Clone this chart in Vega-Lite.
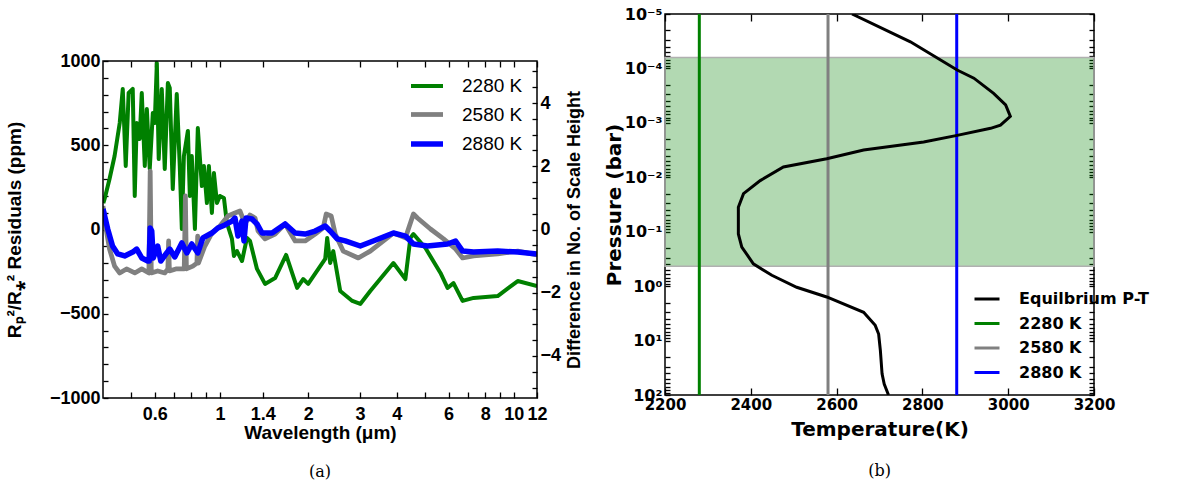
{
  "$schema": "https://vega.github.io/schema/vega-lite/v6.json",
  "background": "white",
  "padding": 5,
  "spacing": 19,
  "resolve": {"scale": {"color": "independent", "strokeWidth": "independent"}, "legend": {"color": "independent", "strokeWidth": "independent"}},
  "config": {
    "view": {"stroke": "black", "strokeWidth": 1.5},
    "axis": {"domain": false, "grid": false, "tickColor": "black", "tickWidth": 1.3, "labelColor": "black", "titleColor": "black", "labelFlush": false, "labelOverlap": false, "labelBound": false}
  },
  "hconcat": [
    {
      "title": {"text": "(a)", "orient": "bottom", "anchor": "middle", "font": "DejaVu Serif", "fontSize": 16, "fontWeight": "normal", "color": "black", "offset": 22},
      "width": 434,
      "height": 384,
      "view": {"stroke": null},
      "layer": [
        {
          "data": {"values": [
            {"s": "2280 K", "w": 0.401, "r": 157}, {"s": "2280 K", "w": 0.405, "r": 181}, {"s": "2280 K", "w": 0.421, "r": 300}, {"s": "2280 K", "w": 0.438, "r": 436},
            {"s": "2280 K", "w": 0.456, "r": 632}, {"s": "2280 K", "w": 0.467, "r": 834}, {"s": "2280 K", "w": 0.478, "r": 377}, {"s": "2280 K", "w": 0.489, "r": 810},
            {"s": "2280 K", "w": 0.505, "r": 834}, {"s": "2280 K", "w": 0.513, "r": 199}, {"s": "2280 K", "w": 0.521, "r": 632}, {"s": "2280 K", "w": 0.533, "r": 537},
            {"s": "2280 K", "w": 0.542, "r": 810}, {"s": "2280 K", "w": 0.555, "r": 377}, {"s": "2280 K", "w": 0.564, "r": 715}, {"s": "2280 K", "w": 0.577, "r": 359},
            {"s": "2280 K", "w": 0.591, "r": 691}, {"s": "2280 K", "w": 0.600, "r": 632}, {"s": "2280 K", "w": 0.610, "r": 988}, {"s": "2280 K", "w": 0.619, "r": 418},
            {"s": "2280 K", "w": 0.634, "r": 834}, {"s": "2280 K", "w": 0.649, "r": 359}, {"s": "2280 K", "w": 0.665, "r": 869}, {"s": "2280 K", "w": 0.675, "r": 840},
            {"s": "2280 K", "w": 0.691, "r": 240}, {"s": "2280 K", "w": 0.713, "r": 804}, {"s": "2280 K", "w": 0.730, "r": 377}, {"s": "2280 K", "w": 0.742, "r": 3},
            {"s": "2280 K", "w": 0.754, "r": 436}, {"s": "2280 K", "w": 0.778, "r": 585}, {"s": "2280 K", "w": 0.790, "r": 199}, {"s": "2280 K", "w": 0.802, "r": 436},
            {"s": "2280 K", "w": 0.822, "r": 3}, {"s": "2280 K", "w": 0.841, "r": 602}, {"s": "2280 K", "w": 0.868, "r": 258}, {"s": "2280 K", "w": 0.882, "r": 377},
            {"s": "2280 K", "w": 0.903, "r": 157}, {"s": "2280 K", "w": 0.917, "r": 377}, {"s": "2280 K", "w": 0.939, "r": 98}, {"s": "2280 K", "w": 0.954, "r": 335},
            {"s": "2280 K", "w": 0.977, "r": 157}, {"s": "2280 K", "w": 1.000, "r": 199}, {"s": "2280 K", "w": 1.032, "r": 187}, {"s": "2280 K", "w": 1.056, "r": 39},
            {"s": "2280 K", "w": 1.099, "r": -56}, {"s": "2280 K", "w": 1.116, "r": -157}, {"s": "2280 K", "w": 1.143, "r": -128}, {"s": "2280 K", "w": 1.189, "r": -187},
            {"s": "2280 K", "w": 1.236, "r": -50}, {"s": "2280 K", "w": 1.266, "r": -68}, {"s": "2280 K", "w": 1.337, "r": -234}, {"s": "2280 K", "w": 1.424, "r": -323},
            {"s": "2280 K", "w": 1.541, "r": -288}, {"s": "2280 K", "w": 1.680, "r": -151}, {"s": "2280 K", "w": 1.831, "r": -347}, {"s": "2280 K", "w": 1.920, "r": -294},
            {"s": "2280 K", "w": 1.997, "r": -323}, {"s": "2280 K", "w": 2.282, "r": -175}, {"s": "2280 K", "w": 2.318, "r": -50}, {"s": "2280 K", "w": 2.373, "r": -199},
            {"s": "2280 K", "w": 2.431, "r": -128}, {"s": "2280 K", "w": 2.567, "r": -365}, {"s": "2280 K", "w": 2.822, "r": -424}, {"s": "2280 K", "w": 3.004, "r": -442},
            {"s": "2280 K", "w": 3.249, "r": -365}, {"s": "2280 K", "w": 3.894, "r": -199}, {"s": "2280 K", "w": 4.278, "r": -294}, {"s": "2280 K", "w": 4.449, "r": -50},
            {"s": "2280 K", "w": 4.556, "r": -27}, {"s": "2280 K", "w": 5.006, "r": -110}, {"s": "2280 K", "w": 5.632, "r": -258}, {"s": "2280 K", "w": 5.953, "r": -347},
            {"s": "2280 K", "w": 6.237, "r": -318}, {"s": "2280 K", "w": 6.698, "r": -424}, {"s": "2280 K", "w": 7.302, "r": -406}, {"s": "2280 K", "w": 8.818, "r": -395},
            {"s": "2280 K", "w": 10.32, "r": -306}, {"s": "2280 K", "w": 12.0, "r": -335},

            {"s": "2580 K", "w": 0.400, "r": 139}, {"s": "2580 K", "w": 0.411, "r": -9}, {"s": "2580 K", "w": 0.421, "r": -116}, {"s": "2580 K", "w": 0.438, "r": -217},
            {"s": "2580 K", "w": 0.456, "r": -258}, {"s": "2580 K", "w": 0.481, "r": -234}, {"s": "2580 K", "w": 0.513, "r": -258}, {"s": "2580 K", "w": 0.542, "r": -234},
            {"s": "2580 K", "w": 0.573, "r": -258}, {"s": "2580 K", "w": 0.579, "r": 347}, {"s": "2580 K", "w": 0.584, "r": -258}, {"s": "2580 K", "w": 0.614, "r": -246},
            {"s": "2580 K", "w": 0.649, "r": -258}, {"s": "2580 K", "w": 0.665, "r": -234}, {"s": "2580 K", "w": 0.669, "r": -68}, {"s": "2580 K", "w": 0.673, "r": -246},
            {"s": "2580 K", "w": 0.708, "r": -234}, {"s": "2580 K", "w": 0.756, "r": -234}, {"s": "2580 K", "w": 0.763, "r": 199}, {"s": "2580 K", "w": 0.769, "r": -234},
            {"s": "2580 K", "w": 0.809, "r": -217}, {"s": "2580 K", "w": 0.835, "r": -199}, {"s": "2580 K", "w": 0.840, "r": -39}, {"s": "2580 K", "w": 0.845, "r": -199},
            {"s": "2580 K", "w": 0.889, "r": -98}, {"s": "2580 K", "w": 0.939, "r": -21}, {"s": "2580 K", "w": 1.000, "r": 21}, {"s": "2580 K", "w": 1.065, "r": 80},
            {"s": "2580 K", "w": 1.125, "r": 98}, {"s": "2580 K", "w": 1.170, "r": 110}, {"s": "2580 K", "w": 1.217, "r": 33}, {"s": "2580 K", "w": 1.266, "r": 86},
            {"s": "2580 K", "w": 1.317, "r": 68}, {"s": "2580 K", "w": 1.348, "r": -9}, {"s": "2580 K", "w": 1.424, "r": -56}, {"s": "2580 K", "w": 1.541, "r": -27},
            {"s": "2580 K", "w": 1.667, "r": 33}, {"s": "2580 K", "w": 1.803, "r": -68}, {"s": "2580 K", "w": 1.950, "r": -68}, {"s": "2580 K", "w": 2.110, "r": -27},
            {"s": "2580 K", "w": 2.246, "r": 9}, {"s": "2580 K", "w": 2.300, "r": 92}, {"s": "2580 K", "w": 2.392, "r": 80}, {"s": "2580 K", "w": 2.469, "r": -27},
            {"s": "2580 K", "w": 2.627, "r": -128}, {"s": "2580 K", "w": 2.958, "r": -169}, {"s": "2580 K", "w": 3.249, "r": -128}, {"s": "2580 K", "w": 3.894, "r": -21},
            {"s": "2580 K", "w": 4.278, "r": -50}, {"s": "2580 K", "w": 4.556, "r": 92}, {"s": "2580 K", "w": 4.703, "r": 68}, {"s": "2580 K", "w": 5.207, "r": 3},
            {"s": "2580 K", "w": 5.769, "r": -56}, {"s": "2580 K", "w": 6.339, "r": -116}, {"s": "2580 K", "w": 6.698, "r": -169}, {"s": "2580 K", "w": 7.302, "r": -157},
            {"s": "2580 K", "w": 8.818, "r": -145}, {"s": "2580 K", "w": 10.32, "r": -128}, {"s": "2580 K", "w": 12.0, "r": -151},

            {"s": "2880 K", "w": 0.400, "r": 122}, {"s": "2880 K", "w": 0.415, "r": 3}, {"s": "2880 K", "w": 0.431, "r": -98}, {"s": "2880 K", "w": 0.449, "r": -145},
            {"s": "2880 K", "w": 0.474, "r": -157}, {"s": "2880 K", "w": 0.505, "r": -134}, {"s": "2880 K", "w": 0.521, "r": -116}, {"s": "2880 K", "w": 0.542, "r": -169},
            {"s": "2880 K", "w": 0.568, "r": -187}, {"s": "2880 K", "w": 0.5745, "r": -187}, {"s": "2880 K", "w": 0.579, "r": 9}, {"s": "2880 K", "w": 0.586, "r": -9},
            {"s": "2880 K", "w": 0.593, "r": -169}, {"s": "2880 K", "w": 0.614, "r": -98}, {"s": "2880 K", "w": 0.629, "r": -187}, {"s": "2880 K", "w": 0.659, "r": -139},
            {"s": "2880 K", "w": 0.675, "r": -116}, {"s": "2880 K", "w": 0.702, "r": -163}, {"s": "2880 K", "w": 0.742, "r": -80}, {"s": "2880 K", "w": 0.772, "r": -139},
            {"s": "2880 K", "w": 0.802, "r": -86}, {"s": "2880 K", "w": 0.841, "r": -139}, {"s": "2880 K", "w": 0.875, "r": -50}, {"s": "2880 K", "w": 0.939, "r": -21},
            {"s": "2880 K", "w": 0.984, "r": 9}, {"s": "2880 K", "w": 1.040, "r": 27}, {"s": "2880 K", "w": 1.099, "r": 50}, {"s": "2880 K", "w": 1.125, "r": 68},
            {"s": "2880 K", "w": 1.152, "r": -39}, {"s": "2880 K", "w": 1.189, "r": 50}, {"s": "2880 K", "w": 1.2075, "r": -68}, {"s": "2880 K", "w": 1.227, "r": 68},
            {"s": "2880 K", "w": 1.286, "r": 62}, {"s": "2880 K", "w": 1.337, "r": 33}, {"s": "2880 K", "w": 1.391, "r": -21}, {"s": "2880 K", "w": 1.505, "r": -21},
            {"s": "2880 K", "w": 1.667, "r": 33}, {"s": "2880 K", "w": 1.803, "r": -21}, {"s": "2880 K", "w": 1.950, "r": -27}, {"s": "2880 K", "w": 2.110, "r": -9},
            {"s": "2880 K", "w": 2.282, "r": 21}, {"s": "2880 K", "w": 2.373, "r": -9}, {"s": "2880 K", "w": 2.508, "r": -56}, {"s": "2880 K", "w": 2.670, "r": -68},
            {"s": "2880 K", "w": 3.004, "r": -98}, {"s": "2880 K", "w": 3.325, "r": -68}, {"s": "2880 K", "w": 3.894, "r": -21}, {"s": "2880 K", "w": 4.278, "r": -39},
            {"s": "2880 K", "w": 4.556, "r": -86}, {"s": "2880 K", "w": 5.085, "r": -98}, {"s": "2880 K", "w": 5.953, "r": -86}, {"s": "2880 K", "w": 6.339, "r": -68},
            {"s": "2880 K", "w": 6.698, "r": -128}, {"s": "2880 K", "w": 7.302, "r": -134}, {"s": "2880 K", "w": 8.818, "r": -128}, {"s": "2880 K", "w": 10.32, "r": -134},
            {"s": "2880 K", "w": 12.0, "r": -145}
          ]},
          "mark": {"type": "line", "clip": true, "strokeJoin": "round"},
          "encoding": {
            "x": {"field": "w", "type": "quantitative", "scale": {"type": "log", "domain": [0.4, 12], "nice": false},
              "axis": {"values": [0.5, 0.6, 0.7, 0.8, 0.9, 1, 1.4, 2, 3, 4, 5, 6, 7, 8, 9, 10, 12],
                "labelExpr": "indexof([0.6, 1, 1.4, 2, 3, 4, 6, 8, 10, 12], datum.value) >= 0 ? format(datum.value, '~g') : ''",
                "tickSize": -6, "labelPadding": 13, "labelFont": "Liberation Sans", "labelFontWeight": "bold", "labelFontSize": 18,
                "title": "Wavelength (μm)", "titleFont": "Liberation Sans", "titleFontWeight": "bold", "titleFontSize": 19, "titlePadding": 0}},
            "y": {"field": "r", "type": "quantitative", "scale": {"domain": [-1000, 1000], "nice": false, "range": [384, 47]},
              "axis": {"values": [-1000, -900, -800, -700, -600, -500, -400, -300, -200, -100, 0, 100, 200, 300, 400, 500, 600, 700, 800, 900, 1000],
                "labelExpr": "datum.value % 500 === 0 ? format(datum.value, 'd') : ''",
                "tickSize": -5, "labelPadding": 8, "labelFont": "Liberation Sans", "labelFontWeight": "bold", "labelFontSize": 18,
                "title": "Rₚ²/R⁎² Residuals (ppm)", "titleFont": "Liberation Sans", "titleFontWeight": "bold", "titleFontSize": 19, "titlePadding": 25}},
            "color": {"field": "s", "type": "nominal", "scale": {"domain": ["2280 K", "2580 K", "2880 K"], "range": ["#008000", "#808080", "#0000ff"]},
              "legend": {"orient": "none", "legendX": 305, "legendY": 54, "title": null, "symbolType": "stroke", "symbolSize": 1024, "symbolStrokeWidth": 5,
                "labelFont": "Liberation Sans", "labelFontWeight": "normal", "labelFontSize": 19, "labelColor": "black", "labelOffset": 16, "rowPadding": 0, "padding": 0}},
            "strokeWidth": {"field": "s", "type": "ordinal", "scale": {"domain": ["2280 K", "2580 K", "2880 K"], "range": [4, 5.5, 6.5]}, "legend": null}
          }
        },
        {
          "data": {"values": [{"wa": 0.4, "wb": 12, "da": -5.33, "db": 5.33}]},
          "mark": {"type": "rect", "fill": "transparent", "stroke": "black", "strokeWidth": 1.5},
          "encoding": {
            "x": {"field": "wa", "type": "quantitative", "scale": {"type": "log", "domain": [0.4, 12], "nice": false},
              "axis": {"orient": "top", "offset": -47, "values": [0.5, 0.6, 0.7, 0.8, 0.9, 1, 1.4, 2, 3, 4, 5, 6, 7, 8, 9, 10, 12], "labels": false, "tickSize": -6, "title": null}},
            "x2": {"field": "wb"},
            "y": {"field": "da", "type": "quantitative", "scale": {"domain": [-5.33, 5.33], "nice": false, "range": [384, 47]},
              "axis": {"orient": "right", "values": [-5, -4.5, -4, -3.5, -3, -2.5, -2, -1.5, -1, -0.5, 0, 0.5, 1, 1.5, 2, 2.5, 3, 3.5, 4, 4.5, 5],
                "labelExpr": "datum.value % 2 === 0 ? format(datum.value, 'd') : ''",
                "tickSize": -5, "labelPadding": 8, "labelFont": "Liberation Sans", "labelFontWeight": "bold", "labelFontSize": 18,
                "title": "Difference in No. of Scale Height", "titleAngle": 270, "titleBaseline": "top", "titleFont": "Liberation Sans", "titleFontWeight": "bold", "titleFontSize": 18, "titlePadding": 5}},
            "y2": {"field": "db"}
          }
        }
      ],
      "resolve": {"scale": {"x": "independent", "y": "independent"}}
    },
    {
      "title": {"text": "(b)", "orient": "bottom", "anchor": "middle", "font": "DejaVu Serif", "fontSize": 16, "fontWeight": "normal", "color": "black", "offset": 24},
      "width": 429,
      "height": 381,
      "layer": [
        {
          "layer": [
            {
              "data": {"values": [{"P": 6.3e-5, "P2": 0.43}]},
              "mark": {"type": "rect", "fill": "#008000", "fillOpacity": 0.3, "stroke": "#b0b0b0", "strokeWidth": 1.5},
              "encoding": {
                "y": {"field": "P", "type": "quantitative", "scale": {"type": "log", "domain": [1e-5, 100], "reverse": true, "nice": false},
                  "axis": {"values": [1e-5, 2e-5, 3e-5, 4e-5, 5e-5, 6e-5, 7e-5, 8e-5, 9e-5, 1e-4, 2e-4, 3e-4, 4e-4, 5e-4, 6e-4, 7e-4, 8e-4, 9e-4, 1e-3, 2e-3, 3e-3, 4e-3, 5e-3, 6e-3, 7e-3, 8e-3, 9e-3, 0.01, 0.02, 0.03, 0.04, 0.05, 0.06, 0.07, 0.08, 0.09, 0.1, 0.2, 0.3, 0.4, 0.5, 0.6, 0.7, 0.8, 0.9, 1, 2, 3, 4, 5, 6, 7, 8, 9, 10, 20, 30, 40, 50, 60, 70, 80, 90, 100],
                    "labelExpr": "abs(log(datum.value) / LN10 - round(log(datum.value) / LN10)) < 0.01 ? '10' + ['⁻⁵', '⁻⁴', '⁻³', '⁻²', '⁻¹', '⁰', '¹', '²'][round(log(datum.value) / LN10) + 5] : ''",
                    "tickSize": -5, "labelPadding": 8, "labelFont": "DejaVu Sans", "labelFontWeight": "bold", "labelFontSize": 16,
                    "title": "Pressure (bar)", "titleFont": "DejaVu Sans", "titleFontWeight": "bold", "titleFontSize": 20, "titlePadding": 0}},
                "y2": {"field": "P2"}
              }
            },
            {
              "data": {"values": [{"T": 2280, "s": "2280 K"}, {"T": 2580, "s": "2580 K"}, {"T": 2880, "s": "2880 K"}]},
              "mark": {"type": "rule", "strokeWidth": 3},
              "encoding": {
                "x": {"field": "T", "type": "quantitative", "scale": {"domain": [2200, 3200], "nice": false},
                  "axis": {"values": [2200, 2400, 2600, 2800, 3000, 3200], "format": "d", "tickSize": -7, "labelPadding": 9,
                    "labelFont": "DejaVu Sans", "labelFontWeight": "bold", "labelFontSize": 15,
                    "title": "Temperature(K)", "titleFont": "DejaVu Sans", "titleFontWeight": "bold", "titleFontSize": 20, "titlePadding": 7}},
                "color": {"field": "s", "type": "nominal", "scale": {"domain": ["Equilbrium P-T", "2280 K", "2580 K", "2880 K"], "range": ["black", "#008000", "#808080", "#0000ff"]},
                  "legend": {"orient": "none", "legendX": 308, "legendY": 271, "title": null, "symbolType": "stroke", "symbolSize": 625, "symbolStrokeWidth": 3,
                    "labelFont": "DejaVu Sans", "labelFontWeight": "bold", "labelFontSize": 16, "labelColor": "black", "labelOffset": 18, "rowPadding": 2.5, "padding": 0}}
              }
            },
            {
              "data": {"values": [
                {"T": 2636, "P": 1e-5, "s": "Equilbrium P-T"}, {"T": 2772, "P": 3.24e-5, "s": "Equilbrium P-T"}, {"T": 2881, "P": 1.07e-4, "s": "Equilbrium P-T"},
                {"T": 2920, "P": 1.51e-4, "s": "Equilbrium P-T"}, {"T": 2966, "P": 2.88e-4, "s": "Equilbrium P-T"}, {"T": 2994, "P": 4.68e-4, "s": "Equilbrium P-T"},
                {"T": 3005, "P": 7.59e-4, "s": "Equilbrium P-T"}, {"T": 2982, "P": 1.10e-3, "s": "Equilbrium P-T"}, {"T": 2959, "P": 1.26e-3, "s": "Equilbrium P-T"},
                {"T": 2881, "P": 1.70e-3, "s": "Equilbrium P-T"}, {"T": 2803, "P": 2.24e-3, "s": "Equilbrium P-T"}, {"T": 2663, "P": 3.16e-3, "s": "Equilbrium P-T"},
                {"T": 2577, "P": 4.57e-3, "s": "Equilbrium P-T"}, {"T": 2476, "P": 6.46e-3, "s": "Equilbrium P-T"}, {"T": 2422, "P": 1.15e-2, "s": "Equilbrium P-T"},
                {"T": 2383, "P": 2.0e-2, "s": "Equilbrium P-T"}, {"T": 2371, "P": 3.55e-2, "s": "Equilbrium P-T"}, {"T": 2371, "P": 0.110, "s": "Equilbrium P-T"},
                {"T": 2379, "P": 0.191, "s": "Equilbrium P-T"}, {"T": 2406, "P": 0.389, "s": "Equilbrium P-T"}, {"T": 2449, "P": 0.631, "s": "Equilbrium P-T"},
                {"T": 2507, "P": 1.05, "s": "Equilbrium P-T"}, {"T": 2577, "P": 1.58, "s": "Equilbrium P-T"}, {"T": 2663, "P": 3.02, "s": "Equilbrium P-T"},
                {"T": 2690, "P": 5.25, "s": "Equilbrium P-T"}, {"T": 2698, "P": 7.59, "s": "Equilbrium P-T"}, {"T": 2702, "P": 15.1, "s": "Equilbrium P-T"},
                {"T": 2706, "P": 40.7, "s": "Equilbrium P-T"}, {"T": 2711, "P": 63.1, "s": "Equilbrium P-T"}, {"T": 2721, "P": 100, "s": "Equilbrium P-T"}
              ]},
              "mark": {"type": "line", "strokeWidth": 3, "clip": true},
              "encoding": {
                "x": {"field": "T", "type": "quantitative", "scale": {"domain": [2200, 3200], "nice": false},
                  "axis": {"values": [2200, 2400, 2600, 2800, 3000, 3200], "format": "d", "tickSize": -7, "labelPadding": 9,
                    "labelFont": "DejaVu Sans", "labelFontWeight": "bold", "labelFontSize": 15,
                    "title": "Temperature(K)", "titleFont": "DejaVu Sans", "titleFontWeight": "bold", "titleFontSize": 20, "titlePadding": 7}},
                "y": {"field": "P", "type": "quantitative", "scale": {"type": "log", "domain": [1e-5, 100], "reverse": true, "nice": false},
                  "axis": {"values": [1e-5, 2e-5, 3e-5, 4e-5, 5e-5, 6e-5, 7e-5, 8e-5, 9e-5, 1e-4, 2e-4, 3e-4, 4e-4, 5e-4, 6e-4, 7e-4, 8e-4, 9e-4, 1e-3, 2e-3, 3e-3, 4e-3, 5e-3, 6e-3, 7e-3, 8e-3, 9e-3, 0.01, 0.02, 0.03, 0.04, 0.05, 0.06, 0.07, 0.08, 0.09, 0.1, 0.2, 0.3, 0.4, 0.5, 0.6, 0.7, 0.8, 0.9, 1, 2, 3, 4, 5, 6, 7, 8, 9, 10, 20, 30, 40, 50, 60, 70, 80, 90, 100],
                    "labelExpr": "abs(log(datum.value) / LN10 - round(log(datum.value) / LN10)) < 0.01 ? '10' + ['⁻⁵', '⁻⁴', '⁻³', '⁻²', '⁻¹', '⁰', '¹', '²'][round(log(datum.value) / LN10) + 5] : ''",
                    "tickSize": -5, "labelPadding": 8, "labelFont": "DejaVu Sans", "labelFontWeight": "bold", "labelFontSize": 16,
                    "title": "Pressure (bar)", "titleFont": "DejaVu Sans", "titleFontWeight": "bold", "titleFontSize": 20, "titlePadding": 0}},
                "order": {"field": "P", "type": "quantitative"},
                "color": {"field": "s", "type": "nominal", "scale": {"domain": ["Equilbrium P-T", "2280 K", "2580 K", "2880 K"], "range": ["black", "#008000", "#808080", "#0000ff"]}}
              }
            }
          ]
        },
        {
          "data": {"values": [{"Td": 2200, "Pd": 1e-5}, {"Td": 3200, "Pd": 100}]},
          "mark": {"type": "point", "opacity": 0},
          "encoding": {
            "x": {"field": "Td", "type": "quantitative", "scale": {"domain": [2200, 3200], "nice": false},
              "axis": {"orient": "top", "values": [2200, 2400, 2600, 2800, 3000, 3200], "labels": false, "tickSize": -7, "title": null}},
            "y": {"field": "Pd", "type": "quantitative", "scale": {"type": "log", "domain": [1e-5, 100], "reverse": true, "nice": false},
              "axis": {"orient": "right", "values": [1e-5, 2e-5, 3e-5, 4e-5, 5e-5, 6e-5, 7e-5, 8e-5, 9e-5, 1e-4, 2e-4, 3e-4, 4e-4, 5e-4, 6e-4, 7e-4, 8e-4, 9e-4, 1e-3, 2e-3, 3e-3, 4e-3, 5e-3, 6e-3, 7e-3, 8e-3, 9e-3, 0.01, 0.02, 0.03, 0.04, 0.05, 0.06, 0.07, 0.08, 0.09, 0.1, 0.2, 0.3, 0.4, 0.5, 0.6, 0.7, 0.8, 0.9, 1, 2, 3, 4, 5, 6, 7, 8, 9, 10, 20, 30, 40, 50, 60, 70, 80, 90, 100],
                "labels": false, "tickSize": -5, "title": null}}
          }
        }
      ],
      "resolve": {"scale": {"x": "independent", "y": "independent"}}
    }
  ]
}
